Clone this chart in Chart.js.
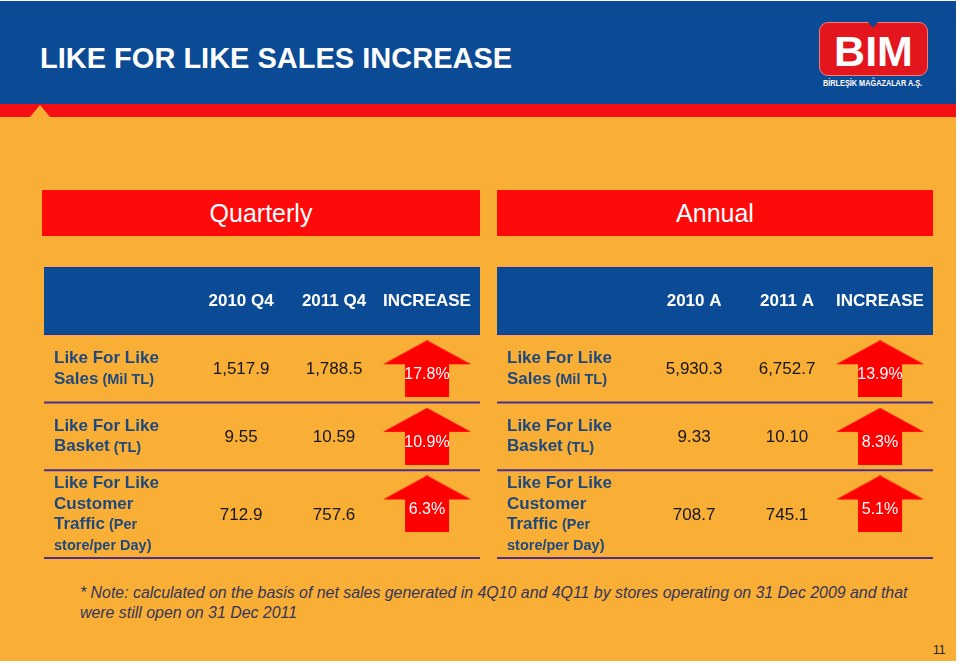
<!DOCTYPE html>
<html>
<head>
<meta charset="utf-8">
<script src="https://cdn.jsdelivr.net/npm/chart.js@4.4.1/dist/chart.umd.min.js"></script>
<style>
  html, body { margin: 0; padding: 0; background: #fff; }
  body { width: 960px; height: 664px; position: relative; overflow: hidden; font-family: "Liberation Sans", Arial, sans-serif; }
  #slide { position: absolute; left: 0; top: 1px; width: 956px; height: 660px; background: #F9AE35; }
  #topbar { position: absolute; left: 0; top: 0; width: 956px; height: 103px; background: #0B4A94; }
  #redline { position: absolute; left: 0; top: 103px; width: 956px; height: 13px; background: #F40F14; }
  #notch { position: absolute; left: 30px; top: 104px; width: 0; height: 0;
    border-left: 10px solid transparent; border-right: 10px solid transparent; border-bottom: 12px solid #F9AE35; }
  #title { position: absolute; left: 40px; top: 41px; color: #fff; font-weight: bold; font-size: 29px; }
  #logo { position: absolute; left: 819px; top: 21px; width: 109px; height: 54px; background: #E3161E; border-radius: 9px; border: 1px solid #f57a7a; box-sizing: border-box; }
  #logo span { position: absolute; left: 0; width: 100%; top: 5px; text-align: center; color: #fff; font-weight: bold; font-size: 43px; line-height: 46px; }
  #logo-notch { position: absolute; left: 868px; top: 21px; width: 0; height: 0;
    border-left: 5px solid transparent; border-right: 5px solid transparent; border-top: 6px solid #0B4A94; }
  #logo-sub { position: absolute; left: 823px; top: 77px; color: #fff; font-weight: bold; font-size: 9px; white-space: nowrap; transform-origin: left top; }
  .banner { position: absolute; top: 190px; height: 46px; background: #FF0A0A; color: #fff; font-size: 25px; line-height: 47px; text-align: center; }
  canvas { position: absolute; }
  #note { position: absolute; left: 80px; top: 583px; width: 870px; color: #35355a; font-style: italic; font-size: 15.9px; line-height: 20px; white-space: nowrap; }
  #pageno { position: absolute; left: 933px; top: 643px; color: #222; font-size: 12px; }
</style>
</head>
<body>
<div id="slide">
  <div id="topbar"></div>
  <div id="redline"></div>
  <div id="notch"></div>
  <div id="title">LIKE FOR LIKE SALES INCREASE</div>
  <div id="logo"><span>BIM</span></div>
  <div id="logo-notch"></div>
  <div id="logo-sub">BİRLEŞİK MAĞAZALAR A.Ş.</div>
</div>
<div class="banner" style="left:42px;width:438px;">Quarterly</div>
<div class="banner" style="left:497px;width:436px;">Annual</div>
<canvas id="quarterChart" width="436" height="293" style="left:44px;top:267px;"></canvas>
<canvas id="annualChart" width="436" height="293" style="left:497px;top:267px;"></canvas>
<div id="note">* Note: calculated on the basis of net sales generated in 4Q10 and 4Q11 by stores operating on 31 Dec 2009 and that<br>were still open on 31 Dec 2011</div>
<div id="pageno">11</div>

<script>
// row labels: each line is [main text, smaller suffix]
const rowLabels = [
  [['Like For Like', ''], ['Sales', ' (Mil TL)']],
  [['Like For Like', ''], ['Basket', ' (TL)']],
  [['Like For Like', ''], ['Customer', ''], ['Traffic', ' (Per'], ['', 'store/per Day)']]
];
const rowDecimals = [1, 2, 1];

const quarterColumns = ['2010 Q4', '2011 Q4', 'INCREASE'];
const quarter2010 = [1517.9, 9.55, 712.9];
const quarter2011 = [1788.5, 10.59, 757.6];
const quarterIncrease = [17.8, 10.9, 6.3];

const annualColumns = ['2010 A', '2011 A', 'INCREASE'];
const annual2010 = [5930.3, 9.33, 708.7];
const annual2011 = [6752.7, 10.10, 745.1];
const annualIncrease = [13.9, 8.3, 5.1];

// layout (not data)
const rowWeights = [1, 1, 1.3];
const FONT = '"Liberation Sans", Arial, sans-serif';
const BLUE = '#0B4A94';
const LABEL_BLUE = '#1F497D';
const DIVIDER = '#4B2E8F';

const rowStarts = rowWeights.map((w, i) => rowWeights.slice(0, i).reduce((a, b) => a + b, 0));
const rowCenters = rowWeights.map((w, i) => rowStarts[i] + w / 2);
const totalRows = rowWeights.reduce((a, b) => a + b, 0);

// squeeze the logo subtitle to the logo width
const sub = document.getElementById('logo-sub');
sub.style.transform = 'scaleX(' + (99 / sub.offsetWidth) + ')';

function fmt(v, d) {
  return v.toLocaleString('en-US', { minimumFractionDigits: d, maximumFractionDigits: d });
}

// red "up" arrow used as point style
function makeArrow() {
  const c = document.createElement('canvas');
  c.width = 88; c.height = 57;
  const g = c.getContext('2d');
  g.fillStyle = '#FF0000';
  g.beginPath();
  g.moveTo(44, 0);
  g.lineTo(88, 24);
  g.lineTo(66, 24);
  g.lineTo(66, 57);
  g.lineTo(22, 57);
  g.lineTo(22, 24);
  g.lineTo(0, 24);
  g.closePath();
  g.fill();
  return c;
}
const arrowImg = makeArrow();

const tablePlugin = {
  id: 'tablePlugin',
  beforeDraw(chart) {
    const { ctx, chartArea, scales: { x, y } } = chart;
    const cols = chart.options.plugins.tablePlugin.columns;
    // header band
    ctx.save();
    ctx.fillStyle = BLUE;
    ctx.fillRect(chartArea.left, 0, chartArea.right - chartArea.left, chartArea.top);
    ctx.fillStyle = '#1B2FB0';
    ctx.fillRect(chartArea.left, 0, chartArea.right - chartArea.left, 1);
    ctx.fillRect(chartArea.left, chartArea.top - 1, chartArea.right - chartArea.left, 1);
    ctx.fillStyle = '#fff';
    ctx.font = 'bold 17px ' + FONT;
    ctx.textAlign = 'center';
    ctx.textBaseline = 'middle';
    cols.forEach((c, i) => ctx.fillText(c, x.getPixelForValue(i + 1), chartArea.top / 2));
    // row dividers
    ctx.strokeStyle = DIVIDER;
    ctx.lineWidth = 2;
    rowWeights.forEach((w, i) => {
      const py = y.getPixelForValue(rowStarts[i] + w);
      ctx.beginPath();
      ctx.moveTo(chartArea.left, py);
      ctx.lineTo(chartArea.right, py);
      ctx.stroke();
    });
    ctx.restore();
  },
  afterDatasetsDraw(chart) {
    const { ctx, chartArea, scales: { x, y } } = chart;
    const o = chart.options.plugins.tablePlugin;
    ctx.save();
    ctx.textBaseline = 'middle';
    // row labels
    rowLabels.forEach((lines, i) => {
      const cy = y.getPixelForValue(rowCenters[i]);
      const lh = 20.5;
      const y0 = cy - (lines.length - 1) * lh / 2;
      lines.forEach((ln, k) => {
        let px = chartArea.left + 10;
        const py = y0 + k * lh;
        ctx.fillStyle = LABEL_BLUE;
        ctx.textAlign = 'left';
        if (ln[0]) {
          ctx.font = 'bold 17px ' + FONT;
          ctx.fillText(ln[0], px, py);
          px += ctx.measureText(ln[0]).width;
        }
        if (ln[1]) {
          ctx.font = 'bold 14.5px ' + FONT;
          ctx.fillText(ln[1], px, py + 1);
        }
      });
    });
    // values
    ctx.fillStyle = '#161616';
    ctx.font = '17px ' + FONT;
    ctx.textAlign = 'center';
    rowLabels.forEach((_, i) => {
      const cy = y.getPixelForValue(rowCenters[i]) + 1;
      ctx.fillText(fmt(o.before[i], rowDecimals[i]), x.getPixelForValue(1), cy);
      ctx.fillText(fmt(o.after[i], rowDecimals[i]), x.getPixelForValue(2), cy);
    });
    // percentages on arrows
    const meta = chart.getDatasetMeta(0);
    ctx.fillStyle = '#fff';
    ctx.font = '16px ' + FONT;
    meta.data.forEach((pt, i) => {
      ctx.fillText(chart.data.datasets[0].data[i].v.toFixed(1) + '%', pt.x, pt.y + 6);
    });
    ctx.restore();
  }
};

function buildTable(id, columns, before, after, increase) {
  new Chart(document.getElementById(id), {
    type: 'scatter',
    data: {
      datasets: [{
        data: increase.map((v, i) => ({ x: 3, y: rowStarts[i] + 0.5, v: v })),
        pointStyle: arrowImg,
        pointRadius: 5,
        pointHoverRadius: 5
      }]
    },
    options: {
      responsive: false,
      devicePixelRatio: 1,
      animation: false,
      events: [],
      layout: { autoPadding: false, padding: { top: 68, bottom: 2, left: 0, right: 0 } },
      scales: {
        x: { type: 'linear', min: -1.12, max: 3.57, display: false },
        y: { type: 'linear', min: 0, max: totalRows, reverse: true, display: false }
      },
      plugins: {
        legend: { display: false },
        tooltip: { enabled: false },
        tablePlugin: { columns: columns, before: before, after: after }
      }
    },
    plugins: [tablePlugin]
  });
}

buildTable('quarterChart', quarterColumns, quarter2010, quarter2011, quarterIncrease);
buildTable('annualChart', annualColumns, annual2010, annual2011, annualIncrease);
</script>
</body>
</html>
